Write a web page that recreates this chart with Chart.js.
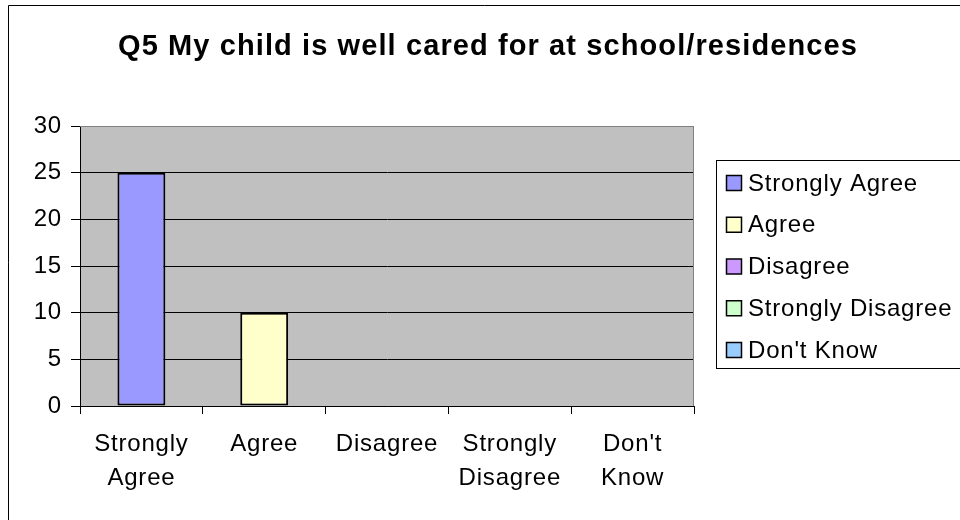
<!DOCTYPE html>
<html>
<head>
<meta charset="utf-8">
<script src="https://cdn.jsdelivr.net/npm/chart.js@4.4.1/dist/chart.umd.min.js"></script>
<style>
  html, body { margin: 0; padding: 0; background: #fff; }
  #wrap { width: 960px; height: 520px; position: relative; }
</style>
</head>
<body>
<div id="wrap"><canvas id="myChart" width="960" height="520"></canvas></div>
<script>
// data
var chartTitle = 'Q5 My child is well cared for at school/residences';
var categories = ['Strongly Agree', 'Agree', 'Disagree', 'Strongly Disagree', "Don't Know"];
var tickLabels = [['Strongly', 'Agree'], ['Agree'], ['Disagree'], ['Strongly', 'Disagree'], ["Don't", 'Know']];
var counts = [25, 10, 0, 0, 0];
var barColors = ['#9999FF', '#FFFFCC', '#CC99FF', '#CCFFCC', '#99CCFF'];
var yTicks = [0, 5, 10, 15, 20, 25, 30];

var FONT = 'Arial, "Liberation Sans", sans-serif';

// gray plot area, outer frame, title and the boxed legend
var excelLook = {
	id: 'excelLook',
	beforeUpdate: function(chart) {
		// excel text looks a bit stretched
		chart.ctx.letterSpacing = '0.8px';
	},
	beforeDraw: function(chart) {
		var c = chart.ctx, a = chart.chartArea;
		c.letterSpacing = '0.8px';
		c.save();
		c.fillStyle = '#C0C0C0';
		c.fillRect(a.left, a.top, a.right - a.left, a.bottom - a.top);
		// frame round the whole chart (only left and top show)
		c.strokeStyle = '#000';
		c.lineWidth = 1;
		c.beginPath();
		c.moveTo(8.5, 520);
		c.lineTo(8.5, 5.5);
		c.lineTo(960, 5.5);
		c.stroke();
		c.restore();
	},
	afterDraw: function(chart) {
		var c = chart.ctx, a = chart.chartArea;
		c.save();
		c.strokeStyle = '#808080';
		c.lineWidth = 1;
		c.beginPath();
		c.moveTo(a.left, a.top + 0.5);
		c.lineTo(a.right - 0.5, a.top + 0.5);
		c.lineTo(a.right - 0.5, a.bottom);
		c.stroke();
		// title
		c.fillStyle = '#000';
		c.font = 'bold 29px ' + FONT;
		c.letterSpacing = '1.1px';
		c.textAlign = 'center';
		c.textBaseline = 'alphabetic';
		c.fillText(chartTitle, 488, 55);
		// legend box
		c.letterSpacing = '0.8px';
		c.strokeStyle = '#000';
		c.strokeRect(716.5, 160.5, 260, 208);
		c.font = '24px ' + FONT;
		c.textAlign = 'left';
		c.textBaseline = 'middle';
		for (var i = 0; i < categories.length; i++) {
			var y = 183 + i * 41.75;
			c.fillStyle = barColors[i];
			c.fillRect(726.5, y - 7.5, 15, 15);
			c.strokeStyle = '#000';
			c.lineWidth = 1.5;
			c.strokeRect(726.5, y - 7.5, 15, 15);
			c.fillStyle = '#000';
			c.fillText(categories[i], 748, y + 1);
		}
		c.restore();
	}
};

var ctx = document.getElementById('myChart');
var myChart = new Chart(ctx, {
	type: 'bar',
	data: {
		labels: tickLabels,
		datasets: [{
			data: counts,
			backgroundColor: barColors,
			borderColor: '#000',
			borderWidth: 2,
			borderSkipped: false,
			categoryPercentage: 1,
			barPercentage: 0.39
		}]
	},
	options: {
		responsive: false,
		animation: false,
		devicePixelRatio: 1,
		layout: { padding: { left: 0, top: 126, right: 266, bottom: 0 } },
		plugins: {
			legend: { display: false },
			title: { display: false },
			tooltip: { enabled: false }
		},
		scales: {
			x: {
				afterFit: function(s) { s.height = 114; },
				grid: {
					offset: true,
					drawOnChartArea: false,
					color: '#000',
					tickLength: 8
				},
				border: { color: '#000', width: 1 },
				ticks: {
					color: '#000',
					padding: 13,
					maxRotation: 0,
					font: { family: FONT, size: 24, lineHeight: 1.42 }
				}
			},
			y: {
				min: 0,
				max: 30,
				afterFit: function(s) { s.width = 80; },
				afterBuildTicks: function(s) {
					s.ticks = yTicks.map(function(v) { return { value: v }; });
				},
				grid: {
					color: function(g) { return g.tick && g.tick.value === 30 ? '#808080' : '#000'; },
					tickColor: '#000',
					tickLength: 9
				},
				border: { color: '#000', width: 1 },
				ticks: {
					color: '#000',
					padding: 9,
					font: { family: FONT, size: 24 }
				}
			}
		}
	},
	plugins: [excelLook]
});
</script>
</body>
</html>
